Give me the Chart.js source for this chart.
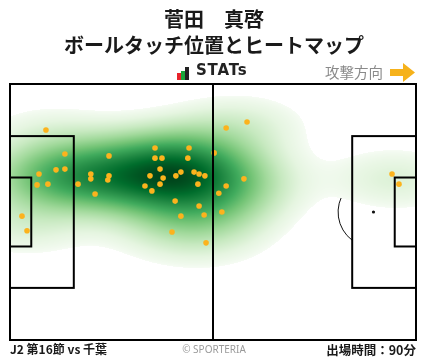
<!DOCTYPE html>
<html>
<head>
<meta charset="utf-8">
<script src="https://cdn.jsdelivr.net/npm/chart.js@4.4.1/dist/chart.umd.min.js"></script>
<style>
  html, body { margin: 0; padding: 0; background: #fff; }
  body { width: 428px; height: 359px; position: relative; overflow: hidden; font-family: "Noto Sans CJK JP", "Noto Sans", sans-serif; }
  #chart { position: absolute; left: 0; top: 0; }
  .txt { position: absolute; white-space: nowrap; }
</style>
</head>
<body>
<canvas id="chart" width="428" height="359"></canvas>

<div class="txt" style="left:0;width:428px;top:6px;text-align:center;font-size:20px;font-weight:700;line-height:26px;color:#1a1a1a">菅田　真啓<br>ボールタッチ位置とヒートマップ</div>

<div class="txt" style="left:177px;top:73px;width:4px;height:7px;background:#e8232b"></div>
<div class="txt" style="left:181px;top:71px;width:4px;height:9px;background:#1aa53a"></div>
<div class="txt" style="left:185px;top:67px;width:4px;height:13px;background:#222"></div>
<div class="txt" style="left:196px;top:61px;font-family:'DejaVu Sans';font-size:15px;font-weight:700;letter-spacing:0.8px;color:#222">STATs</div>

<div class="txt" style="left:325px;top:61px;font-size:14.5px;color:#8a8a8a">攻撃方向</div>
<svg class="txt" style="left:390px;top:63px" width="26" height="19" viewBox="0 0 26 19">
  <polygon points="0,6 13,6 13,0 25,9.5 13,19 13,13 0,13" fill="#f6b21b"/>
</svg>

<div class="txt" style="left:10px;top:340px;font-size:12px;font-weight:700;color:#1a1a1a">J2 第16節 vs 千葉</div>
<div class="txt" style="left:0;width:428px;top:342px;text-align:center;font-family:'Noto Sans';font-size:10px;color:#9a9a9a">© SPORTERIA</div>
<div class="txt" style="right:12px;top:340px;font-size:12.5px;font-weight:700;color:#1a1a1a">出場時間：90分</div>

<script>
// touch positions in metres (x along pitch, y from top touchline)
const touchX = [9.3, 14.2, 7.5, 11.9, 14.2, 7.0, 9.8, 17.6, 20.9, 20.9, 22.0, 3.1, 4.4,
  25.6, 25.6, 25.3, 37.5, 46.3, 37.5, 39.3, 46.0, 38.8, 36.2, 39.6, 42.9, 44.2, 47.6,
  48.9, 50.4, 34.9, 38.8, 36.7, 48.6, 42.7, 48.9, 44.2, 50.2, 41.9, 50.7, 61.3, 55.9,
  52.8, 60.5, 55.9, 54.0, 54.8, 98.8, 100.6]
const touchY = [12.2, 18.6, 23.9, 22.8, 22.6, 26.8, 26.6, 26.6, 23.9, 25.2, 29.2, 35.1, 39.0,
  19.1, 24.4, 25.5, 17.0, 17.0, 19.7, 19.7, 19.7, 22.6, 24.4, 25.0, 24.4, 23.4, 23.4,
  23.9, 24.4, 27.1, 26.6, 28.4, 26.6, 31.1, 32.4, 35.1, 34.8, 39.3, 42.2, 10.1, 11.7,
  18.3, 25.2, 27.1, 29.0, 34.0, 23.9, 26.6]

const PITCH_L = 105
const PITCH_W = 68
const BW_ADJUST_X = 1.05
const BW_ADJUST_Y = 1.55

// matplotlib "Greens"
const greens = ['#f7fcf5', '#e5f5e0', '#c7e9c0', '#a1d99b', '#74c476', '#41ab5d', '#238b45', '#006d2c', '#00441b']
  .map(h => [parseInt(h.slice(1, 3), 16), parseInt(h.slice(3, 5), 16), parseInt(h.slice(5, 7), 16)])

function greenAt(t) {
    const p = Math.min(Math.max(t, 0), 1) * (greens.length - 1)
    const i = Math.min(Math.floor(p), greens.length - 2)
    const f = p - i
    return greens[i].map((c, k) => Math.round(c + (greens[i + 1][k] - c) * f))
}

// gaussian kde, scott's rule, per-axis bandwidth
function makeKde(xs, ys) {
    const n = xs.length
    const mx = xs.reduce((a, b) => a + b) / n, my = ys.reduce((a, b) => a + b) / n
    let cxx = 0, cyy = 0
    for (let i = 0; i < n; i++) {
        cxx += (xs[i] - mx) ** 2; cyy += (ys[i] - my) ** 2
    }
    const f = Math.pow(n, -1 / 6)
    const bwx = Math.sqrt(cxx / (n - 1)) * f * BW_ADJUST_X
    const bwy = Math.sqrt(cyy / (n - 1)) * f * BW_ADJUST_Y
    const fn = (vx, vy) => {
        let s = 0
        for (let k = 0; k < n; k++) {
            const dx = (vx - xs[k]) / bwx, dy = (vy - ys[k]) / bwy
            s += Math.exp(-0.5 * (dx * dx + dy * dy))
        }
        return s
    }
    return { fn, bwx, bwy }
}

const heatPlugin = {
    id: 'heat',
    beforeDatasetsDraw(chart) {
        const { ctx, chartArea: a, scales: { x, y } } = chart
        // thin marks that the heat covers
        ctx.save()
        ctx.strokeStyle = '#111'
        ctx.lineWidth = 1
        const cx = x.getPixelForValue(PITCH_L - 11), cy = y.getPixelForValue(PITCH_W / 2)
        const r = x.getPixelForValue(9.15) - x.getPixelForValue(0)
        const ang = Math.acos(5.5 / 9.15)
        ctx.beginPath()
        ctx.arc(cx, cy, r, Math.PI - ang, Math.PI + ang)
        ctx.stroke()
        ctx.fillStyle = '#111'
        ctx.beginPath()
        ctx.arc(cx, cy, 1.6, 0, Math.PI * 2)
        ctx.fill()
        ctx.restore()

        const kde = makeKde(touchX, touchY)
        // support grid like seaborn (cut = 3)
        const gx0 = Math.min(...touchX) - 3 * kde.bwx, gx1 = Math.max(...touchX) + 3 * kde.bwx
        const gy0 = Math.min(...touchY) - 3 * kde.bwy, gy1 = Math.max(...touchY) + 3 * kde.bwy
        const G = 200, vals = []
        for (let j = 0; j < G; j++) {
            for (let i = 0; i < G; i++) {
                vals.push(kde.fn(gx0 + (gx1 - gx0) * i / (G - 1), gy0 + (gy1 - gy0) * j / (G - 1)))
            }
        }
        vals.sort((p, q) => p - q)
        const total = vals.reduce((p, q) => p + q)
        let acc = 0, level = 0
        for (const v of vals) {
            acc += v
            if (acc >= 0.05 * total) { level = v; break }
        }
        const top = vals[vals.length - 1]

        const w = Math.round(a.right - a.left), h = Math.round(a.bottom - a.top)
        const off = document.createElement('canvas')
        off.width = w; off.height = h
        const octx = off.getContext('2d')
        const img = octx.createImageData(w, h)
        for (let j = 0; j < h; j++) {
            const vy = y.getValueForPixel(a.top + j + 0.5)
            if (vy < gy0 || vy > gy1) continue
            for (let i = 0; i < w; i++) {
                const vx = x.getValueForPixel(a.left + i + 0.5)
                if (vx < gx0 || vx > gx1) continue
                const d = kde.fn(vx, vy)
                if (d < level) continue
                const c = greenAt(Math.pow((d - level) / (top - level), 0.7))
                const p = (j * w + i) * 4
                img.data[p] = c[0]; img.data[p + 1] = c[1]; img.data[p + 2] = c[2]; img.data[p + 3] = 255
            }
        }
        octx.putImageData(img, 0, 0)
        ctx.drawImage(off, a.left, a.top)
    },
    afterDatasetsDraw(chart) {
        const { ctx, scales: { x, y } } = chart
        const px = v => x.getPixelForValue(v), py = v => y.getPixelForValue(v)
        const rect = (x0, y0, x1, y1) => ctx.strokeRect(px(x0), py(y0), px(x1) - px(x0), py(y1) - py(y0))
        ctx.save()
        ctx.strokeStyle = '#000'
        ctx.lineWidth = 2
        rect(0, 0, PITCH_L, PITCH_W)
        ctx.beginPath()
        ctx.moveTo(px(PITCH_L / 2), py(0))
        ctx.lineTo(px(PITCH_L / 2), py(PITCH_W))
        ctx.stroke()
        const mid = PITCH_W / 2
        rect(0, mid - 20.16, 16.5, mid + 20.16)
        rect(0, mid - 9.16, 5.5, mid + 9.16)
        rect(PITCH_L - 16.5, mid - 20.16, PITCH_L, mid + 20.16)
        rect(PITCH_L - 5.5, mid - 9.16, PITCH_L, mid + 9.16)
        ctx.restore()
    }
}

new Chart(document.getElementById('chart'), {
    type: 'scatter',
    data: {
        datasets: [{
            data: touchX.map((v, i) => ({ x: v, y: touchY[i] })),
            backgroundColor: '#fcb31d',
            borderWidth: 0,
            pointRadius: 2.8
        }]
    },
    options: {
        responsive: false,
        animation: false,
        layout: { padding: { left: 10, right: 12, top: 84, bottom: 19 } },
        scales: {
            x: { type: 'linear', min: 0, max: PITCH_L, display: false },
            y: { type: 'linear', min: 0, max: PITCH_W, reverse: true, display: false }
        },
        plugins: { legend: { display: false }, tooltip: { enabled: false } }
    },
    plugins: [heatPlugin]
})
</script>
</body>
</html>
